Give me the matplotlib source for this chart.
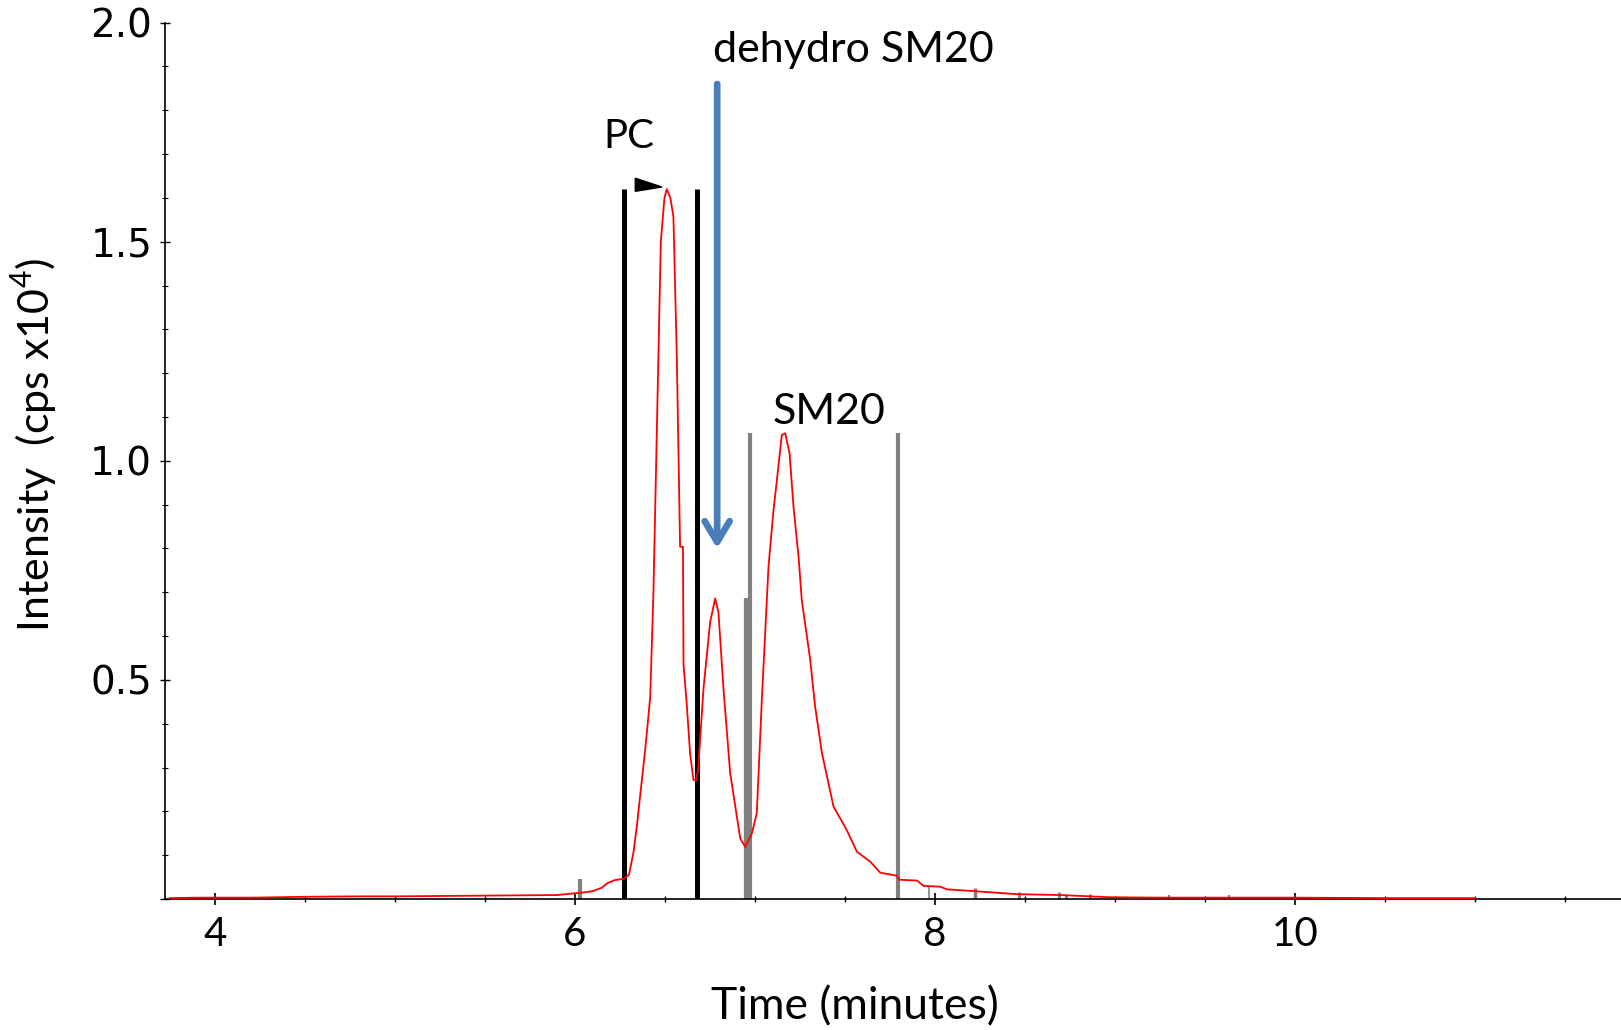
import matplotlib
matplotlib.use("Agg")
import matplotlib.pyplot as plt
from matplotlib.ticker import MultipleLocator, FixedLocator, FuncFormatter

plt.rcParams['mathtext.fontset'] = 'custom'
plt.rcParams['mathtext.rm'] = 'Lato'

# chromatogram trace (time in minutes, intensity in cps x10^4)
time = [3.75, 3.9, 4.0, 4.2, 4.5, 4.8, 5.0, 5.3, 5.6, 5.9, 6.0, 6.05, 6.1, 6.15,
        6.18, 6.22, 6.27, 6.30, 6.325, 6.345, 6.362, 6.39, 6.418, 6.436, 6.458,
        6.477, 6.497, 6.51, 6.53, 6.547, 6.566, 6.584, 6.600, 6.603, 6.62, 6.64,
        6.658, 6.672, 6.684, 6.714, 6.751, 6.779, 6.797, 6.825, 6.862, 6.918,
        6.946, 6.983, 7.01, 7.038, 7.075, 7.103, 7.13, 7.149, 7.168, 7.192, 7.214,
        7.242, 7.26, 7.307, 7.334, 7.372, 7.436, 7.51, 7.566, 7.64, 7.696, 7.788,
        7.80, 7.90, 7.936, 8.03, 8.066, 8.214, 8.455, 8.696, 8.97, 9.25, 9.6,
        10.0, 10.5, 11.0]
intensity = [0.002, 0.003, 0.003, 0.003, 0.005, 0.006, 0.006, 0.007, 0.008, 0.009,
             0.013, 0.015, 0.018, 0.026, 0.036, 0.043, 0.046, 0.055, 0.106, 0.17,
             0.235, 0.34, 0.46, 0.70, 1.13, 1.50, 1.60, 1.62, 1.60, 1.557, 1.234,
             0.804, 0.804, 0.535, 0.45, 0.33, 0.272, 0.27, 0.294, 0.48, 0.632,
             0.686, 0.654, 0.48, 0.288, 0.138, 0.119, 0.15, 0.196, 0.454, 0.758,
             0.888, 0.987, 1.059, 1.063, 1.017, 0.895, 0.781, 0.682, 0.545, 0.439,
             0.333, 0.211, 0.157, 0.108, 0.085, 0.060, 0.053, 0.044, 0.042, 0.030,
             0.028, 0.022, 0.018, 0.011, 0.009, 0.004, 0.003, 0.003, 0.003, 0.002,
             0.002]

# integration boundary markers
pc_bounds = [6.273, 6.679]
pc_bound_height = 1.62
gray_t = [6.03, 6.955, 6.97, 7.794, 7.964, 8.223, 8.464, 8.69, 8.73, 8.86, 9.30, 9.63]
gray_h = [0.045, 0.687, 1.063, 1.063, 0.028, 0.026, 0.015, 0.015, 0.012, 0.012, 0.008, 0.008]
gray_w = [3.0, 4.5, 3.0, 3.0, 1.2, 2.5, 2.0, 2.0, 2.0, 2.0, 1.5, 1.5]

# apex flag on PC peak
flag_t = [6.335, 6.335, 6.483]
flag_y = [1.645, 1.615, 1.625]

arrow_t = 6.79
arrow_top, arrow_tip = 1.86, 0.80

labels = ["PC", "dehydro SM20", "SM20"]
label_t = [6.297, 6.765, 7.41]
label_y = [1.713, 1.911, 1.084]
label_ha = ["center", "left", "center"]
label_size = [29, 31, 31]

fig = plt.figure(figsize=(16.21, 10.30), dpi=100)
ax = fig.add_axes([0.102, 0.1272, 0.898, 0.8508])

for t, h, w in zip(gray_t, gray_h, gray_w):
    ax.vlines(t, 0, h, colors='#808080', linewidth=w, zorder=2)
ax.vlines(pc_bounds, 0, pc_bound_height, colors='black', linewidth=3.6, zorder=2)
ax.plot(time, intensity, color='#ff0000', linewidth=1.3, zorder=3)
ax.fill(flag_t, flag_y, color='black', zorder=3)

ax.annotate('', xy=(arrow_t, arrow_tip), xytext=(arrow_t, arrow_top),
            arrowprops=dict(arrowstyle='->,head_length=1.0,head_width=0.6',
                            lw=4.8, color='#4A7EBB', mutation_scale=15,
                            shrinkA=0, shrinkB=0), zorder=4)

for s, t, y, ha, fs in zip(labels, label_t, label_y, label_ha, label_size):
    ax.text(t, y, s, ha=ha, va='baseline', fontsize=fs, family='Lato')

ax.set_xlim(3.725, 11.81)
ax.set_ylim(0, 2.0)
ax.spines['top'].set_visible(False)
ax.spines['right'].set_visible(False)
ax.spines['left'].set_linewidth(1.2)
ax.spines['bottom'].set_linewidth(1.2)

ax.xaxis.set_major_locator(FixedLocator([4, 6, 8, 10]))
ax.xaxis.set_minor_locator(MultipleLocator(0.5))
ax.yaxis.set_major_locator(MultipleLocator(0.5))
ax.yaxis.set_minor_locator(MultipleLocator(0.1))
ax.yaxis.set_major_formatter(FuncFormatter(lambda v, p: '' if v == 0 else '%.1f' % v))

ax.tick_params(axis='x', which='major', direction='inout', length=9, width=1.2, pad=8)
ax.tick_params(axis='x', which='minor', direction='inout', length=4.5, width=1.0)
ax.tick_params(axis='y', which='major', direction='inout', length=7, width=1.0, pad=6)
ax.tick_params(axis='y', which='minor', direction='inout', length=4, width=0.8)

for lab in ax.get_xticklabels():
    lab.set_fontfamily('Lato')
    lab.set_fontsize(29)
for lab in ax.get_yticklabels():
    lab.set_fontfamily('DejaVu Sans')
    lab.set_fontsize(28)

ax.set_xlabel('Time (minutes)', fontsize=32, family='Lato')
ax.xaxis.set_label_coords(0.474, -0.1)
ax.set_ylabel('Intensity  (cps x10$^4$)', fontsize=31, family='Lato')
ax.yaxis.set_label_coords(-0.073, 0.518)

fig.savefig('out.png', dpi=100)
